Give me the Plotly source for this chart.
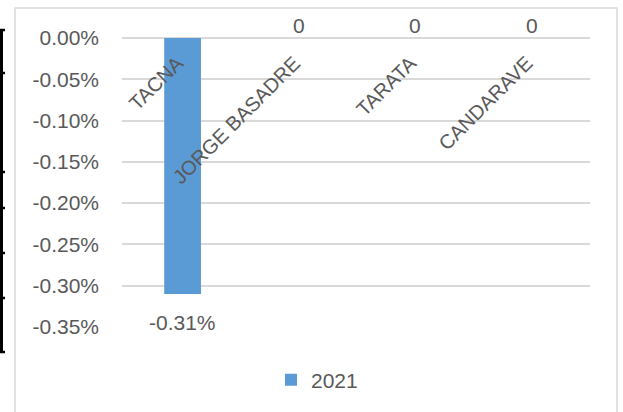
import plotly.graph_objects as go

categories = ["TACNA", "JORGE BASADRE", "TARATA", "CANDARAVE"]
values_2021 = [-0.0031, 0, 0, 0]
series_name = "2021"
y_ticks = [0, -0.0005, -0.0010, -0.0015, -0.0020, -0.0025, -0.0030, -0.0035]

FONT = "Liberation Sans"
GRAY = "#595959"
GRID = "#d9d9d9"
BAR = "#5B9BD5"

W, H = 623, 412
L, R, T, B = 122, 33, 38, 85
pw, ph = W - L - R, H - T - B

def px_x(x):
    return (x - L) / pw

def px_y(y):
    return (H - B - y) / ph

def pct(v):
    return f"{v*100:.2f}%"

fig = go.Figure()
fig.add_trace(go.Bar(
    x=categories, y=values_2021, name=series_name,
    marker=dict(color=BAR, line=dict(width=0)),
    width=0.316,
))

annotations = []
for c, v in zip(categories, values_2021):
    if v == 0:
        annotations.append(dict(x=c, y=v, xref="x", yref="y", text="0",
                                showarrow=False, yanchor="bottom", yshift=-1,
                                font=dict(family=FONT, size=21, color=GRAY)))
    else:
        annotations.append(dict(x=c, y=v, xref="x", yref="y", text=pct(v),
                                showarrow=False, yanchor="top", yshift=-15,
                                font=dict(family=FONT, size=21, color=GRAY)))
    annotations.append(dict(x=c, y=0, xref="x", yref="y", text=c, textangle=-45,
                            showarrow=False, xanchor="right", yanchor="top",
                            xshift=8, yshift=-11,
                            font=dict(family=FONT, size=20, color=GRAY)))

shapes = [
    dict(type="rect", xref="paper", yref="paper",
         x0=px_x(15), x1=px_x(617), y0=px_y(416), y1=px_y(8),
         line=dict(color=GRID, width=1.5), layer="below"),
    dict(type="line", xref="paper", yref="paper",
         x0=px_x(1.5), x1=px_x(1.5), y0=px_y(29), y1=px_y(353),
         line=dict(color="black", width=3)),
]
for ty in [30, 73, 172, 208, 253, 298, 352]:
    shapes.append(dict(type="line", xref="paper", yref="paper",
                       x0=px_x(0), x1=px_x(5), y0=px_y(ty), y1=px_y(ty),
                       line=dict(color="black", width=2.5)))

fig.update_layout(
    width=W, height=H,
    margin=dict(l=L, r=R, t=T, b=B, autoexpand=False),
    paper_bgcolor="white", plot_bgcolor="white",
    font=dict(family=FONT, size=21, color=GRAY),
    showlegend=True,
    legend=dict(orientation="h", x=px_x(271), xanchor="left",
                y=px_y(380), yanchor="middle",
                font=dict(family=FONT, size=21, color=GRAY)),
    xaxis=dict(showticklabels=False, showgrid=False, zeroline=False,
               showline=False, ticks=""),
    yaxis=dict(range=[-0.0035, 0], tickvals=y_ticks,
               ticktext=[pct(t) for t in y_ticks],
               showgrid=True, gridcolor=GRID, gridwidth=1.5,
               zeroline=True, zerolinecolor=GRID, zerolinewidth=1.5,
               showline=False, ticks="", ticklabelstandoff=22,
               tickfont=dict(family=FONT, size=21, color=GRAY)),
    annotations=annotations, shapes=shapes,
)

fig.write_html("out.html", config={"displayModeBar": False},
               post_script="document.body.style.margin='0';document.body.style.overflow='hidden';")
